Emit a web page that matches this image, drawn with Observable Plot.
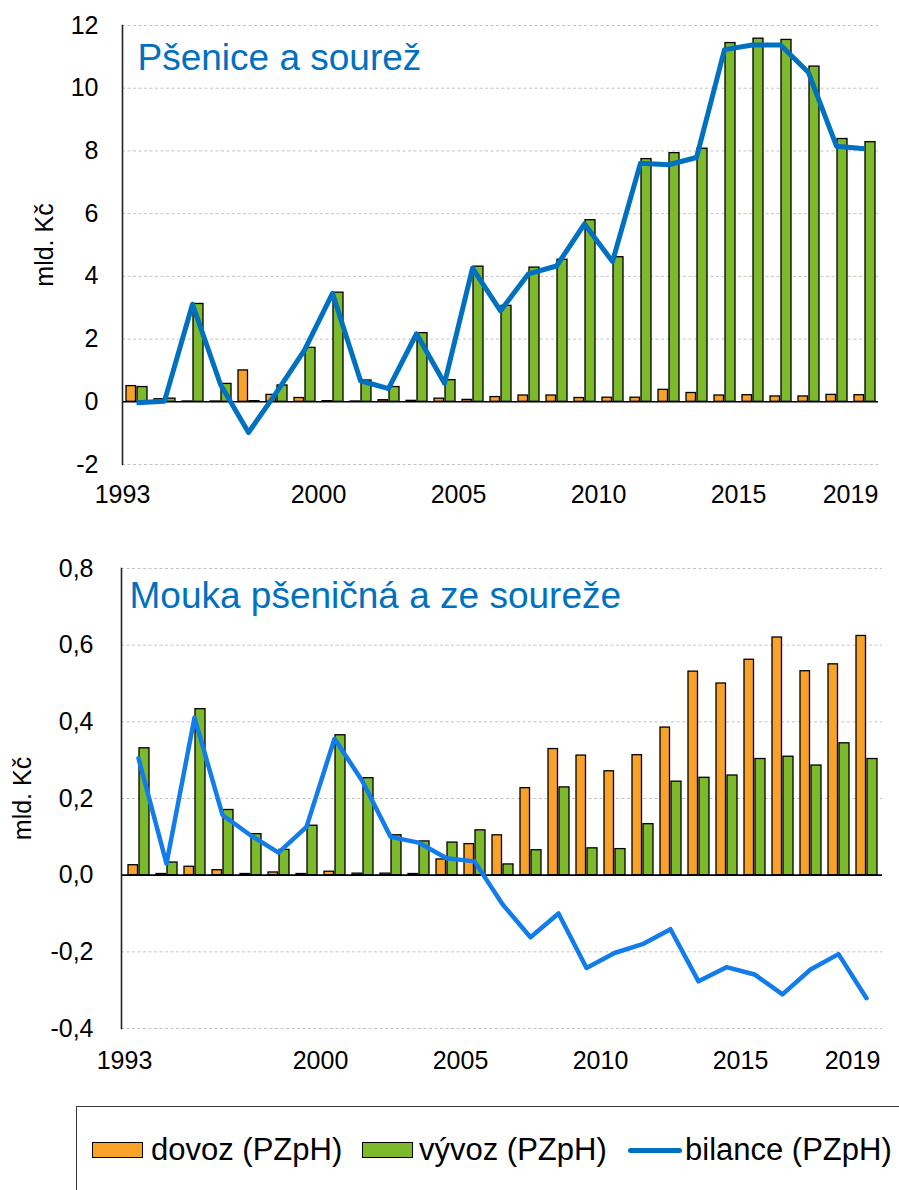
<!DOCTYPE html>
<html>
<head>
<meta charset="utf-8">
<script src="https://cdn.jsdelivr.net/npm/d3@7"></script>
<script src="https://cdn.jsdelivr.net/npm/@observablehq/plot@0.6"></script>
<style>
  html, body { margin: 0; padding: 0; background: #fff; }
  body { width: 899px; height: 1190px; position: relative; overflow: hidden; font-family: "Liberation Sans", Arial, sans-serif; }
  #top { position: absolute; left: 0; top: 0; }
  #bottom { position: absolute; left: 0; top: 530px; }
  #legendBox { position: absolute; left: 76px; top: 1106px; width: 900px; height: 200px; border: 1.5px solid #3a3a3a; box-sizing: border-box; }
  .lg-sw { position: absolute; top: 1142px; width: 49px; height: 14px; border: 1.5px solid #000; }
  .lg-ln { position: absolute; top: 1148px; width: 54px; height: 5px; border-radius: 3px; }
  .lg-tx { position: absolute; top: 1132px; font-size: 31px; line-height: 36px; color: #000; white-space: nowrap; }
</style>
</head>
<body>
<div id="top"></div>
<div id="bottom"></div>
<div id="legendBox"></div>
<div id="legend"></div>
<script>
// ---- data ----
const years = [1993,1994,1995,1996,1997,1998,1999,2000,2001,2002,2003,2004,2005,2006,2007,2008,2009,2010,2011,2012,2013,2014,2015,2016,2017,2018,2019];
const xTickYears = [1993, 2000, 2005, 2010, 2015, 2019];

// Pšenice a sourež (mld. Kč)
const wheatImport = [0.50,0.08,0.01,0.01,1.00,0.22,0.12,0.02,0.01,0.05,0.03,0.10,0.06,0.15,0.20,0.20,0.12,0.13,0.13,0.38,0.28,0.20,0.21,0.17,0.17,0.22,0.21];
const wheatExport = [0.47,0.10,3.12,0.57,0.02,0.52,1.72,3.48,0.68,0.47,2.19,0.69,4.31,3.06,4.28,4.53,5.79,4.61,7.74,7.93,8.07,11.44,11.58,11.54,10.69,8.38,8.28];
const wheatBalance = [-0.03,0.02,3.11,0.55,-0.98,0.30,1.65,3.46,0.67,0.42,2.17,0.59,4.26,2.90,4.08,4.33,5.67,4.47,7.61,7.56,7.79,11.23,11.38,11.38,10.50,8.15,8.07];
const wheatTicks = [-2,0,2,4,6,8,10,12];

// Mouka pšeničná a ze soureže (mld. Kč)
const flourImport = [0.026,0.003,0.022,0.013,0.003,0.007,0.003,0.009,0.004,0.004,0.003,0.041,0.081,0.104,0.227,0.329,0.312,0.271,0.313,0.385,0.531,0.500,0.562,0.620,0.532,0.550,0.624];
const flourExport = [0.331,0.033,0.433,0.170,0.107,0.066,0.129,0.365,0.253,0.104,0.088,0.085,0.117,0.028,0.065,0.229,0.070,0.068,0.133,0.244,0.254,0.260,0.303,0.309,0.286,0.344,0.303];
const flourBalance = [0.305,0.030,0.411,0.157,0.104,0.059,0.126,0.356,0.245,0.100,0.085,0.044,0.036,-0.076,-0.162,-0.100,-0.242,-0.203,-0.180,-0.141,-0.277,-0.240,-0.259,-0.311,-0.246,-0.206,-0.321];
const flourTicks = [-0.4,-0.2,0,0.2,0.4,0.6,0.8];

const titles = ["Pšenice a sourež", "Mouka pšeničná a ze soureže"];
const yLabel = "mld. Kč";
const seriesNames = ["dovoz (PZpH)", "vývoz (PZpH)", "bilance (PZpH)"];

const ORANGE = "#F9A228", GREEN = "#7CBA2C", TITLE_BLUE = "#0070C0";

function makeChart(o) {
  const rows = years.map((year, i) => ({year, imp: o.imp[i], exp: o.exp[i], bal: o.bal[i]}));
  return Plot.plot({
    width: 899,
    height: o.height,
    marginLeft: o.marginLeft,
    marginRight: o.marginRight,
    marginTop: o.marginTop,
    marginBottom: o.marginBottom,
    style: {fontFamily: '"Liberation Sans", Arial, sans-serif', fontSize: "25px", color: "#000", background: "transparent", overflow: "visible"},
    x: {type: "band", domain: years, paddingInner: 0, paddingOuter: 0},
    y: {domain: o.domain},
    marks: [
      Plot.ruleY(o.ticks, {stroke: "#c4c4c4", strokeWidth: 1, strokeDasharray: "3,2.5"}),
      Plot.barY(rows, {x: "year", y: "imp", fill: ORANGE, stroke: "#000", strokeWidth: 1.3, insetLeft: 4, insetRight: 14.5}),
      Plot.barY(rows, {x: "year", y: "exp", fill: GREEN, stroke: "#000", strokeWidth: 1.3, insetLeft: 15, insetRight: 3}),
      Plot.ruleY([0], {stroke: "#000", strokeWidth: 1.6}),
      Plot.frame({anchor: "left", stroke: "#222", strokeWidth: 1.6}),
      Plot.line(rows, {x: "year", y: "bal", stroke: o.lineColor, strokeWidth: o.lineWidth, strokeLinejoin: "round", strokeLinecap: o.cap}),
      Plot.axisY({ticks: o.ticks, tickFormat: o.fmt, tickSize: 0, tickPadding: o.tickPadding,
                  label: yLabel, labelAnchor: "center", labelOffset: o.labelOffset, labelArrow: "none", fontSize: 25}),
      Plot.axisX({ticks: xTickYears, tickFormat: d => String(d), tickSize: 0, tickPadding: o.xTickPadding, label: null, dx: -14, fontSize: 25}),
      Plot.text([o.title], {frameAnchor: "top-left", textAnchor: "start", lineAnchor: "top", dx: o.titleDx, dy: o.titleDy,
                            fill: TITLE_BLUE, fontSize: 37})
    ]
  });
}

document.getElementById("top").append(makeChart({
  imp: wheatImport, exp: wheatExport, bal: wheatBalance,
  domain: [-2, 12], ticks: wheatTicks, fmt: d => String(d),
  height: 530, marginLeft: 122, marginRight: 21, marginTop: 25, marginBottom: 66,
  lineColor: "#0070C0", lineWidth: 5, cap: "butt",
  tickPadding: 24, labelOffset: 87, xTickPadding: 21,
  title: titles[0], titleDx: 15, titleDy: 18.7
}));

document.getElementById("bottom").append(makeChart({
  imp: flourImport, exp: flourExport, bal: flourBalance,
  domain: [-0.4, 0.8], ticks: flourTicks, fmt: d => d.toFixed(1).replace(".", ","),
  height: 560, marginLeft: 121, marginRight: 17, marginTop: 38, marginBottom: 62,
  lineColor: "#127CEB", lineWidth: 4.5, cap: "round",
  tickPadding: 28, labelOffset: 108, xTickPadding: 23,
  title: titles[1], titleDx: 8, titleDy: 13.7
}));

// ---- legend ----
const legend = d3.select("#legend");
const legendLayout = [
  {fill: ORANGE, kind: "sw", keyLeft: 92, textLeft: 151},
  {fill: GREEN, kind: "sw", keyLeft: 362, textLeft: 419},
  {fill: "#0070C0", kind: "ln", keyLeft: 628, textLeft: 685}
];
seriesNames.forEach((name, i) => {
  const L = legendLayout[i];
  legend.append("div").attr("class", "lg-" + L.kind).style("left", L.keyLeft + "px").style("background", L.fill);
  legend.append("div").attr("class", "lg-tx").style("left", L.textLeft + "px").text(name);
});
</script>
</body>
</html>
